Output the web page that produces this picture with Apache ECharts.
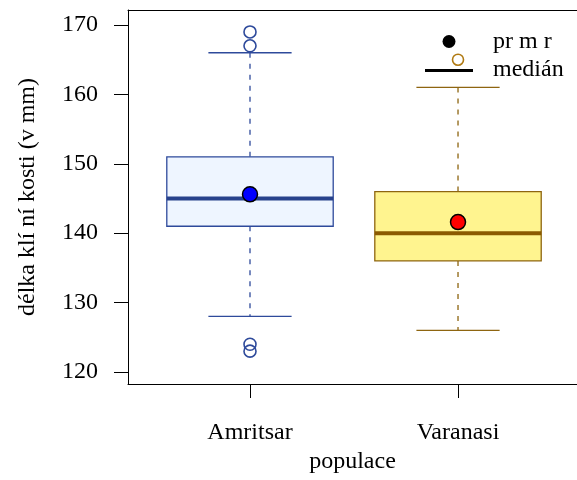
<!DOCTYPE html>
<html>
<head>
<meta charset="utf-8">
<script src="https://cdn.jsdelivr.net/npm/echarts@6/dist/echarts.min.js"></script>
<style>
  html, body { margin: 0; padding: 0; background: #fff; }
  #chart { width: 577px; height: 480px; }
</style>
</head>
<body>
<div id="chart"></div>
<script>
// Clavicle length by population: five-number summaries, means and outliers
var categories = ['Amritsar', 'Varanasi'];
var lowWhisker = [128, 126];
var q1 = [141, 136];
var median = [145, 140];
var q3 = [151, 146];
var highWhisker = [166, 161];
var means = [145.6, 141.6];
var amritsarOutliers = [169, 167, 124, 123];
var varanasiOutliers = [165];
var yTicks = [120, 130, 140, 150, 160, 170];

// per-group look
var boxFill = ['#EEF5FF', '#FFF48F'];
var boxBorder = ['#2E4A9B', '#8E6510'];
var medianColor = ['#27428C', '#8B5A00'];
var meanColor = ['#0000FF', '#FF0000'];

var FONT = 'Liberation Serif';
var FS = 24;

var boxData = categories.map(function (c, i) {
  return [i + 1, lowWhisker[i], q1[i], median[i], q3[i], highWhisker[i], i];
});

function renderBox(params, api) {
  var x = api.value(0);
  var gi = api.value(6);
  var pLow = api.coord([x, api.value(1)]);
  var pQ1 = api.coord([x, api.value(2)]);
  var pMed = api.coord([x, api.value(3)]);
  var pQ3 = api.coord([x, api.value(4)]);
  var pHigh = api.coord([x, api.value(5)]);
  var half = api.size([0.8, 0])[0] / 2;
  var cap = half / 2;
  var cx = pMed[0];
  var col = boxBorder[gi];
  var dashStyle = { stroke: col, lineWidth: 1.3, lineDash: [5, 6] };
  var solid = { stroke: col, lineWidth: 1.3 };
  return {
    type: 'group',
    children: [
      { type: 'line', shape: { x1: cx, y1: pQ3[1], x2: cx, y2: pHigh[1] }, style: dashStyle },
      { type: 'line', shape: { x1: cx, y1: pQ1[1], x2: cx, y2: pLow[1] }, style: dashStyle },
      { type: 'line', shape: { x1: cx - cap, y1: pHigh[1], x2: cx + cap, y2: pHigh[1] }, style: solid },
      { type: 'line', shape: { x1: cx - cap, y1: pLow[1], x2: cx + cap, y2: pLow[1] }, style: solid },
      { type: 'rect', shape: { x: cx - half, y: pQ3[1], width: half * 2, height: pQ1[1] - pQ3[1] },
        style: { fill: boxFill[gi], stroke: col, lineWidth: 1.3 } },
      { type: 'line', shape: { x1: cx - half, y1: pMed[1], x2: cx + half, y2: pMed[1] },
        style: { stroke: medianColor[gi], lineWidth: 4 } }
    ]
  };
}

var chart = echarts.init(document.getElementById('chart'), null, { renderer: 'canvas' });

var option = {
  animation: false,
  backgroundColor: '#ffffff',
  textStyle: { fontFamily: FONT },
  grid: { left: 128, right: 0, top: 10, bottom: 96 },
  xAxis: [{
    type: 'value',
    min: 0.4135,
    max: 2.572,
    name: 'populace',
    nameLocation: 'middle',
    nameGap: 66,
    nameTextStyle: { fontFamily: FONT, fontSize: FS, color: '#000' },
    axisLine: { show: true, onZero: false, lineStyle: { color: '#000', width: 1 } },
    axisTick: { show: true, length: 14, customValues: [1, 2], lineStyle: { color: '#000', width: 1 } },
    axisLabel: {
      customValues: [1, 2],
      margin: 37,
      fontFamily: FONT, fontSize: FS, color: '#000',
      formatter: function (v) { return categories[Math.round(v) - 1]; }
    },
    splitLine: { show: false }
  }, {
    type: 'value',
    position: 'top',
    min: 0.4135,
    max: 2.572,
    axisLine: { show: true, onZero: false, lineStyle: { color: '#000', width: 1 } },
    axisTick: { show: false },
    axisLabel: { show: false },
    splitLine: { show: false }
  }],
  yAxis: {
    type: 'value',
    min: 118.27,
    max: 172.16,
    name: 'délka klí ní kosti (v mm)',
    nameLocation: 'middle',
    nameGap: 88,
    nameTextStyle: { fontFamily: FONT, fontSize: FS, color: '#000' },
    axisLine: { show: true, onZero: false, lineStyle: { color: '#000', width: 1 } },
    axisTick: { show: true, length: 14, customValues: yTicks, lineStyle: { color: '#000', width: 1 } },
    axisLabel: { customValues: yTicks, margin: 30, fontFamily: FONT, fontSize: FS, color: '#000' },
    splitLine: { show: false }
  },
  series: [
    {
      type: 'custom',
      renderItem: renderBox,
      data: boxData,
      encode: { x: 0, y: [1, 2, 3, 4, 5] },
      z: 2
    },
    {
      type: 'scatter',
      symbol: 'circle',
      symbolSize: 12,
      data: amritsarOutliers.map(function (v) { return [1, v]; }),
      itemStyle: { color: 'rgba(0,0,0,0)', borderColor: boxBorder[0], borderWidth: 1.6, opacity: 1 },
      z: 3
    },
    {
      type: 'scatter',
      symbol: 'circle',
      symbolSize: 11,
      data: varanasiOutliers.map(function (v) { return [2, v]; }),
      itemStyle: { color: 'rgba(0,0,0,0)', borderColor: '#B07A12', borderWidth: 1.6, opacity: 1 },
      z: 3
    },
    {
      type: 'scatter',
      symbol: 'circle',
      symbolSize: 15,
      data: means.map(function (v, i) {
        return { value: [i + 1, v], itemStyle: { color: meanColor[i] } };
      }),
      itemStyle: { borderColor: '#000', borderWidth: 1.5, opacity: 1 },
      z: 4
    }
  ],
  graphic: [
    { type: 'circle', shape: { cx: 449, cy: 41.5, r: 6.5 }, style: { fill: '#000' }, z: 10 },
    { type: 'line', shape: { x1: 425, y1: 70.5, x2: 473, y2: 70.5 }, style: { stroke: '#000', lineWidth: 3 }, z: 10 },
    { type: 'text', x: 493, y: 42, style: { text: 'pr m r', font: '24px "Liberation Serif"', fill: '#000', verticalAlign: 'middle' }, z: 10 },
    { type: 'text', x: 493, y: 70, style: { text: 'medián', font: '24px "Liberation Serif"', fill: '#000', verticalAlign: 'middle' }, z: 10 }
  ]
};

chart.setOption(option);
</script>
</body>
</html>
